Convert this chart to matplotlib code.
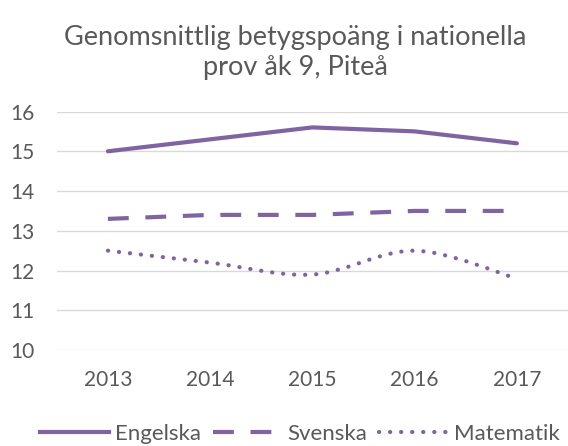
import matplotlib.pyplot as plt
import numpy as np
from matplotlib.path import Path
from matplotlib.patches import PathPatch
from matplotlib.lines import Line2D

plt.rcParams['font.family'] = ['Lato', 'DejaVu Sans']

years = ['2013', '2014', '2015', '2016', '2017']
engelska = [15.0, 15.3, 15.6, 15.5, 15.2]
svenska = [13.3, 13.4, 13.4, 13.5, 13.5]
matematik = [12.5, 12.2, 11.9, 12.5, 11.8]

purple = '#8064A2'
grey = '#595959'


def smooth_path(x, y, t=1/6):
    # Bezier-kurva genom punkterna (som Excels utjämnade linje)
    pts = np.column_stack([x, y]).astype(float)
    verts = [pts[0]]
    codes = [Path.MOVETO]
    n = len(pts)
    for i in range(n - 1):
        p0 = pts[i - 1] if i > 0 else pts[i]
        p1, p2 = pts[i], pts[i + 1]
        p3 = pts[i + 2] if i + 2 < n else pts[i + 1]
        c1 = p1 + (p2 - p0) * t
        c2 = p2 - (p3 - p1) * t
        verts += [c1, c2, p2]
        codes += [Path.CURVE4] * 3
    return Path(verts, codes)


fig = plt.figure(figsize=(5.68, 4.46), dpi=100)
ax = fig.add_axes([0.1, 0.215, 0.9, 0.535])

x = np.arange(len(years))
series = [
    ('Engelska', engelska, dict(linestyle='-'), False),
    ('Svenska', svenska, dict(linestyle=(0, (5, 4))), False),
    ('Matematik', matematik, dict(linestyle=(0, (0.05, 2.6)), capstyle='round'), True),
]
handles = []
for name, vals, st, smooth in series:
    if smooth:
        patch = PathPatch(smooth_path(x, vals), facecolor='none', edgecolor=purple,
                          linewidth=3, **st)
        ax.add_patch(patch)
    else:
        ax.plot(x, vals, color=purple, linewidth=3, linestyle=st['linestyle'],
                solid_joinstyle='round', solid_capstyle='round')
    h = Line2D([], [], color=purple, linewidth=3,
               linestyle=st['linestyle'],
               dash_capstyle=st.get('capstyle', 'butt'))
    handles.append(h)

ax.set_xlim(-0.5, len(years) - 0.5)
ax.set_ylim(10, 16)
ax.set_xticks(x)
ax.set_xticklabels(years)
ax.set_yticks(range(10, 17))
ax.grid(axis='y', color='#D9D9D9', linewidth=1)
ax.set_axisbelow(True)
for s in ax.spines.values():
    s.set_visible(False)
ax.tick_params(length=0, labelsize=15, colors=grey)
ax.tick_params(axis='x', pad=14)
ax.tick_params(axis='y', pad=16)

fig.text(0.52, 0.883, 'Genomsnittlig betygspoäng i nationella\nprov åk 9, Piteå',
         ha='center', va='center', fontsize=19.5, color=grey, linespacing=1.25)

fig.legend(handles, [s[0] for s in series], loc='center', bbox_to_anchor=(0.528, 0.027),
           ncol=3, frameon=False, fontsize=16, labelcolor=grey,
           handlelength=3.1, handletextpad=0.25, columnspacing=0.55)

fig.savefig('out.png', dpi=100)
